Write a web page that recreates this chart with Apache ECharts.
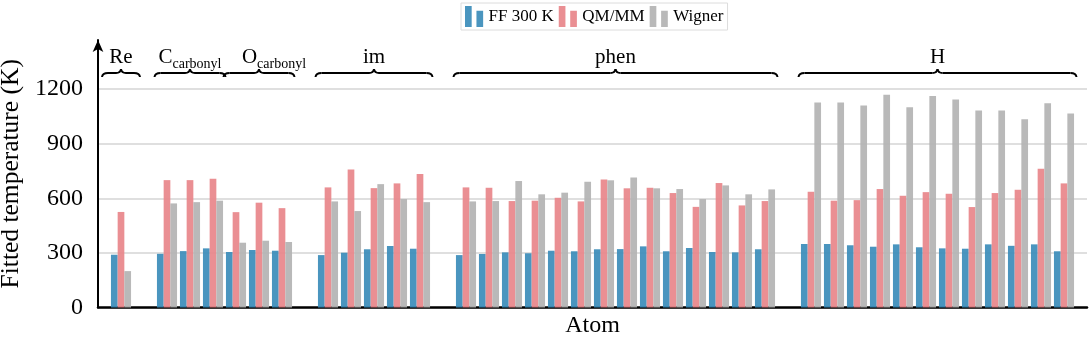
<!DOCTYPE html>
<html>
<head>
<meta charset="UTF-8">
<title>Fitted temperature</title>
<style>
  html, body { margin: 0; padding: 0; background: #fff; }
  #main { width: 1091px; height: 341px; }
</style>
</head>
<body>
<div id="main"></div>
<script src="https://cdn.jsdelivr.net/npm/echarts@6/dist/echarts.min.js"></script>
<script>
// one slot per atom, '' = empty slot between groups (and at both ends)
var atoms = ['', 'Re', '',
  'C1', 'C2', 'C3', 'O1', 'O2', 'O3', '',
  'im1', 'im2', 'im3', 'im4', 'im5', '',
  'phen1', 'phen2', 'phen3', 'phen4', 'phen5', 'phen6', 'phen7', 'phen8', 'phen9', 'phen10', 'phen11', 'phen12', 'phen13', 'phen14', '',
  'H1', 'H2', 'H3', 'H4', 'H5', 'H6', 'H7', 'H8', 'H9', 'H10', 'H11', 'H12', ''];

var ff300 = [null, 290, null,
  295, 310, 325, 305, 316, 312, null,
  288, 301, 320, 338, 323, null,
  288, 294, 303, 298, 312, 309, 320, 321, 336, 309, 327, 305, 303, 320, null,
  349, 349, 342, 334, 347, 331, 325, 323, 347, 339, 347, 309, null];

var qmmm = [null, 525, null,
  700, 700, 707, 524, 576, 546, null,
  660, 759, 656, 682, 733, null,
  660, 658, 585, 587, 603, 583, 704, 655, 658, 629, 553, 684, 561, 585, null,
  636, 587, 590, 651, 614, 634, 625, 552, 629, 647, 762, 682, null];

var wigner = [null, 200, null,
  572, 579, 587, 356, 367, 360, null,
  583, 530, 678, 596, 579, null,
  583, 585, 695, 622, 631, 691, 699, 715, 655, 651, 596, 671, 622, 649, null,
  1127, 1127, 1110, 1169, 1101, 1162, 1143, 1083, 1083, 1035, 1123, 1066, null];

var yTicks = [0, 300, 600, 900, 1200];

// atom groups marked with braces above the bars
var groupNames = ['Re', 'C', 'O', 'im', 'phen', 'H'];
var groupSubs = ['', 'carbonyl', 'carbonyl', '', '', ''];
var groupFirst = [1, 3, 6, 10, 16, 31];
var groupLast = [1, 5, 8, 14, 29, 42];

var serif = '"Liberation Serif", "DejaVu Serif", serif';
var myChart = echarts.init(document.getElementById('main'));

function barSeries(name, data, color) {
  return {
    name: name,
    type: 'bar',
    data: data,
    barWidth: 6.7,
    barGap: '0%',
    itemStyle: { color: color, opacity: 0.92 }
  };
}

myChart.setOption({
  animation: false,
  textStyle: { fontFamily: serif, color: '#000' },
  legend: {
    left: 461,
    top: 3,
    padding: [3, 4],
    itemGap: 5,
    itemWidth: 19,
    itemHeight: 21,
    borderColor: '#dcdcdc',
    borderWidth: 1,
    icon: 'path://M0,0h7v22h-7z M12,5h7v17h-7z',
    textStyle: { fontFamily: serif, fontSize: 17, color: '#000' },
    data: ['FF 300 K', 'QM/MM', 'Wigner']
  },
  grid: { left: 98, right: 4, top: 40, bottom: 33.5, containLabel: false, outerBoundsMode: 'none' },
  xAxis: {
    type: 'category',
    data: atoms,
    boundaryGap: false,
    name: 'Atom',
    nameLocation: 'middle',
    nameGap: 6,
    nameTextStyle: { fontFamily: serif, fontSize: 24, color: '#000', verticalAlign: 'top' },
    axisLine: { lineStyle: { color: '#000', width: 2.5 } },
    axisTick: { show: false },
    axisLabel: { show: false },
    splitLine: { show: false }
  },
  yAxis: {
    type: 'value',
    min: 0,
    max: 1470,
    interval: 300,
    name: 'Fitted temperature (K)',
    nameLocation: 'middle',
    nameRotate: 90,
    nameGap: 72,
    nameTextStyle: { fontFamily: serif, fontSize: 25.5, color: '#000' },
    axisLine: { show: true, symbol: ['none', 'arrow'], symbolSize: [8, 12], lineStyle: { color: '#000', width: 2 } },
    axisTick: { show: false },
    axisLabel: {
      margin: 15,
      fontFamily: serif,
      fontSize: 24,
      color: '#000',
      showMaxLabel: false,
      formatter: function (v) { return yTicks.indexOf(v) >= 0 ? String(v) : ''; }
    },
    splitLine: { show: true, showMaxLine: false, lineStyle: { color: '#d4d4d4', width: 1.5 } }
  },
  series: [
    barSeries('FF 300 K', ff300, '#3b8cba'),
    barSeries('QM/MM', qmmm, '#e8868a'),
    barSeries('Wigner', wigner, '#b3b3b3')
  ]
});

// braces and group labels, placed from the category axis
function xOf(i) { return myChart.convertToPixel({ xAxisIndex: 0 }, i); }

function brace(x0, x1, y) {
  var xm = (x0 + x1) / 2;
  var s = { stroke: '#000', lineWidth: 2, fill: null };
  return [
    { type: 'bezierCurve', shape: { x1: x0, y1: y + 4, cpx1: x0 + 0.5, cpy1: y, x2: x0 + 6, y2: y }, style: s },
    { type: 'line', shape: { x1: x0 + 6, y1: y, x2: xm - 5, y2: y }, style: s },
    { type: 'bezierCurve', shape: { x1: xm - 5, y1: y, cpx1: xm - 0.5, cpy1: y, x2: xm, y2: y - 4 }, style: s },
    { type: 'bezierCurve', shape: { x1: xm, y1: y - 4, cpx1: xm + 0.5, cpy1: y, x2: xm + 5, y2: y }, style: s },
    { type: 'line', shape: { x1: xm + 5, y1: y, x2: x1 - 6, y2: y }, style: s },
    { type: 'bezierCurve', shape: { x1: x1 - 6, y1: y, cpx1: x1 - 0.5, cpy1: y, x2: x1, y2: y + 4 }, style: s }
  ];
}

var band = xOf(1) - xOf(0);
var elements = [];
for (var g = 0; g < groupNames.length; g++) {
  var a = xOf(groupFirst[g]) - band / 2 - 1;
  var b = xOf(groupLast[g]) + band / 2 + 1;
  if (b - a < 38) { var c = (a + b) / 2; a = c - 19; b = c + 19; }
  elements = elements.concat(brace(a, b, 73));
  var dx = g === 2 ? 15 : 0;
  var txt = groupSubs[g] ? '{m|' + groupNames[g] + '}{s|' + groupSubs[g] + '}' : '{m|' + groupNames[g] + '}';
  elements.push({
    type: 'text',
    x: (a + b) / 2 + dx,
    y: 58,
    style: {
      text: txt,
      align: 'center',
      verticalAlign: 'middle',
      fill: '#000',
      rich: {
        m: { fontFamily: serif, fontSize: 21, lineHeight: 22, fill: '#000', verticalAlign: 'top' },
        s: { fontFamily: serif, fontSize: 14, lineHeight: 14, fill: '#000', verticalAlign: 'bottom', padding: [0, 0, -2, 0] }
      }
    }
  });
}
myChart.setOption({ graphic: elements });
</script>
</body>
</html>
